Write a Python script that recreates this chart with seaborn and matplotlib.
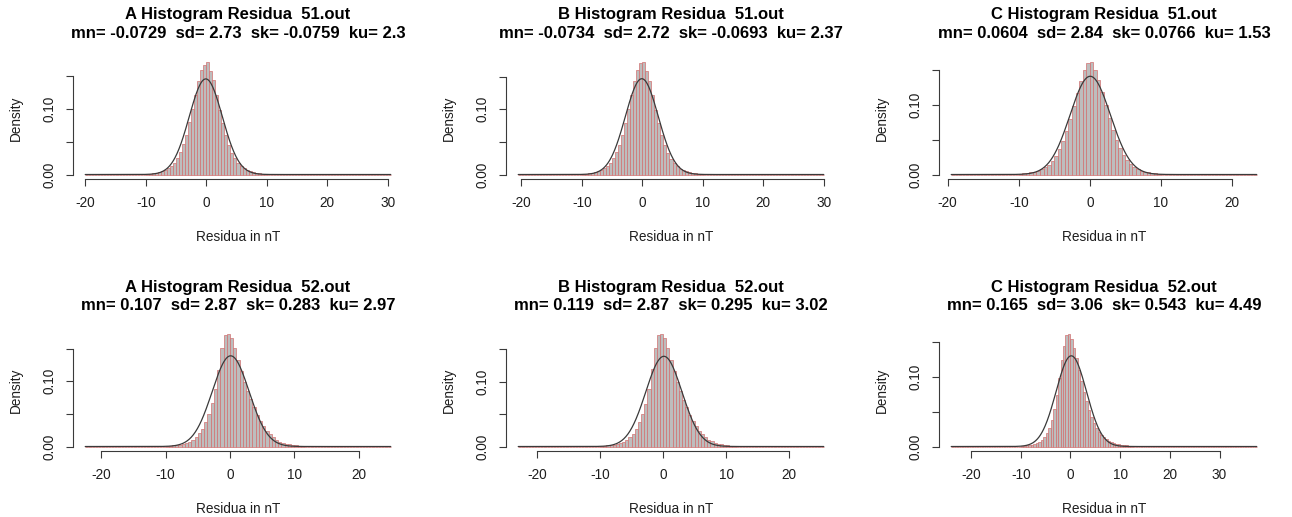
import numpy as np
import pandas as pd
import matplotlib
matplotlib.use("Agg")
import matplotlib.pyplot as plt
import seaborn as sns

# ---------------- data ----------------
methods = ["A", "B", "C"]
files = ["51.out", "52.out"]

mn = [[-0.0729, -0.0734, 0.0604], [0.107, 0.119, 0.165]]
sd = [[2.73, 2.72, 2.84], [2.87, 2.87, 3.06]]
sk = [[-0.0759, -0.0693, 0.0766], [0.283, 0.295, 0.543]]
ku = [[2.3, 2.37, 1.53], [2.97, 3.02, 4.49]]

# range covered by the histogram breaks
data_lo = [[-20.0, -20.5, -19.5], [-22.5, -23.0, -24.0]]
data_hi = [[30.5, 30.0, 23.5], [25.0, 25.5, 37.5]]

bin_width = 0.5
core_start = -10.0   # first bin with visible height; bins outside are ~0

dens_A51 = [0.0011, 0.0015, 0.0019, 0.0026, 0.0036, 0.0050, 0.0069, 0.0095, 0.0131, 0.0181,
            0.0249, 0.0340, 0.0460, 0.0611, 0.0795, 0.1003, 0.1220, 0.1425, 0.1592, 0.1668,
            0.1712, 0.1585, 0.1440, 0.1210, 0.0990, 0.0785, 0.0600, 0.0452, 0.0335, 0.0245,
            0.0177, 0.0128, 0.0093, 0.0067, 0.0048, 0.0035, 0.0026, 0.0019, 0.0014, 0.0010]
dens_B51 = [0.0010, 0.0014, 0.0019, 0.0026, 0.0036, 0.0049, 0.0068, 0.0094, 0.0130, 0.0180,
            0.0248, 0.0338, 0.0458, 0.0610, 0.0795, 0.1002, 0.1222, 0.1430, 0.1600, 0.1700,
            0.1715, 0.1590, 0.1430, 0.1215, 0.0995, 0.0788, 0.0602, 0.0452, 0.0334, 0.0243,
            0.0175, 0.0127, 0.0092, 0.0066, 0.0048, 0.0035, 0.0025, 0.0018, 0.0013, 0.0010]
dens_C51 = [0.0011, 0.0015, 0.0021, 0.0029, 0.0040, 0.0054, 0.0075, 0.0104, 0.0143, 0.0196,
            0.0267, 0.0359, 0.0476, 0.0620, 0.0789, 0.0975, 0.1166, 0.1343, 0.1490, 0.1598,
            0.1602, 0.1500, 0.1357, 0.1186, 0.0995, 0.0809, 0.0639, 0.0493, 0.0373, 0.0278,
            0.0205, 0.0149, 0.0109, 0.0078, 0.0057, 0.0042, 0.0030, 0.0022, 0.0016, 0.0012]
dens_A52 = [0.0010, 0.0013, 0.0017, 0.0022, 0.0030, 0.0040, 0.0055, 0.0075, 0.0105, 0.0145,
            0.0200, 0.0275, 0.0375, 0.0500, 0.0660, 0.0880, 0.1180, 0.1510, 0.1715,
            0.1717, 0.1660, 0.1510, 0.1330, 0.1160, 0.0990, 0.0850, 0.0725, 0.0605, 0.0490,
            0.0390, 0.0310, 0.0240, 0.0186, 0.0140, 0.0102, 0.0076, 0.0056, 0.0042, 0.0032,
            0.0024, 0.0018, 0.0014, 0.0010]
dens_B52 = [0.0009, 0.0012, 0.0016, 0.0021, 0.0029, 0.0039, 0.0054, 0.0074, 0.0103, 0.0143,
            0.0198, 0.0272, 0.0372, 0.0498, 0.0662, 0.0885, 0.1190, 0.1525, 0.1722,
            0.1726, 0.1665, 0.1515, 0.1335, 0.1160, 0.0990, 0.0848, 0.0722, 0.0602, 0.0488,
            0.0392, 0.0312, 0.0242, 0.0188, 0.0142, 0.0104, 0.0078, 0.0058, 0.0043, 0.0033,
            0.0025, 0.0019, 0.0014, 0.0010]
dens_C52 = [0.0010, 0.0013, 0.0016, 0.0020, 0.0027, 0.0036, 0.0050, 0.0068, 0.0095, 0.0135,
            0.0190, 0.0270, 0.0385, 0.0540, 0.0740, 0.0990, 0.1250, 0.1450, 0.1605,
            0.1610, 0.1545, 0.1420, 0.1265, 0.1100, 0.0935, 0.0785, 0.0650, 0.0530, 0.0428,
            0.0342, 0.0272, 0.0214, 0.0168, 0.0131, 0.0102, 0.0080, 0.0063, 0.0050, 0.0040,
            0.0032, 0.0026, 0.0021, 0.0017, 0.0014, 0.0011]

densities = [[dens_A51, dens_B51, dens_C51], [dens_A52, dens_B52, dens_C52]]

x_ticks = [[[-20, -10, 0, 10, 20, 30], [-20, -10, 0, 10, 20, 30], [-20, -10, 0, 10, 20]],
           [[-20, -10, 0, 10, 20], [-20, -10, 0, 10, 20], [-20, -10, 0, 10, 20, 30]]]
y_ticks = [0.0, 0.05, 0.10, 0.15]
y_ticklabels = ["0.00", "", "0.10", ""]

# ---------------- style ----------------
sns.set_style("white")
plt.rcParams["font.family"] = ["Liberation Sans", "DejaVu Sans"]

W, H = 1292, 517
fig = plt.figure(figsize=(W / 100, H / 100), dpi=100)

col_left = [73, 506, 939]
row_top = [58, 330]
ax_w, ax_h = 330, 121

bar_fill = "#bdbdbd"
bar_edge = "#d27070"
axis_col = "#3a3a3a"
text_col = "#1e1e1e"

for r in range(2):
    for c in range(3):
        left = col_left[c]
        top = row_top[r]
        ax = fig.add_axes([left / W, (H - top - ax_h) / H, ax_w / W, ax_h / H])
        lo, hi = data_lo[r][c], data_hi[r][c]
        n_bins = int(round((hi - lo) / bin_width))
        lefts = lo + bin_width * np.arange(n_bins)
        centers = lefts + bin_width / 2
        core = densities[r][c]
        dens = np.zeros(n_bins)
        for i, e in enumerate(lefts):
            k = int(round((e - core_start) / bin_width))
            if 0 <= k < len(core):
                dens[i] = core[k]
        df = pd.DataFrame({"center": centers, "density": dens})
        sns.histplot(data=df, x="center", weights="density", binwidth=bin_width,
                     binrange=(lo, hi), stat="count", ax=ax, color=bar_fill,
                     edgecolor=bar_edge, linewidth=0.5, alpha=1.0)

        xs = np.linspace(lo, hi, 600)
        m, s = mn[r][c], sd[r][c]
        ax.plot(xs, np.exp(-0.5 * ((xs - m) / s) ** 2) / (s * np.sqrt(2 * np.pi)),
                color="#3a3a3a", lw=0.9)

        rng = hi - lo
        ax.set_xlim(lo - 0.04 * rng, hi + 0.04 * rng)
        ymax = max(core)
        ax.set_ylim(-0.04 * ymax, 1.04 * ymax)

        for sp in ["top", "right"]:
            ax.spines[sp].set_visible(False)
        ax.spines["left"].set_bounds(y_ticks[0], y_ticks[-1])
        ax.spines["bottom"].set_bounds(x_ticks[r][c][0], x_ticks[r][c][-1])
        for sp in ["left", "bottom"]:
            ax.spines[sp].set_color(axis_col)
            ax.spines[sp].set_linewidth(0.8)

        ax.set_xticks(x_ticks[r][c])
        ax.set_xticklabels([str(t) if t >= 0 else "-" + str(-t) for t in x_ticks[r][c]])
        ax.set_yticks(y_ticks)
        ax.set_yticklabels(y_ticklabels, rotation=90, va="center")
        ax.tick_params(axis="both", bottom=True, left=True, length=5, width=0.8,
                       color=axis_col, labelsize=9.8, labelcolor=text_col, pad=7,
                       direction="out")

        ax.set_xlabel("Residua in nT", fontsize=9.8, color=text_col)
        ax.xaxis.label.set_va("center")
        ax.xaxis.set_label_coords(0.5, -58 / ax_h)
        ax.set_ylabel("Density", fontsize=9.8, color=text_col)
        ax.yaxis.label.set_va("center")
        ax.yaxis.label.set_ha("center")
        ax.yaxis.set_label_coords(-57 / ax_w, 0.5)

        line1 = f"{methods[c]} Histogram Residua  {files[r]}"
        line2 = (f"mn= {mn[r][c]:.3g}  sd= {sd[r][c]:.3g}  "
                 f"sk= {sk[r][c]:.3g}  ku= {ku[r][c]:.3g}")
        ax.text(0.5, 1 + 43 / ax_h, line1, transform=ax.transAxes, ha="center",
                va="center", fontsize=12, fontweight="bold", color="black")
        ax.text(0.5, 1 + 24 / ax_h, line2, transform=ax.transAxes, ha="center",
                va="center", fontsize=12, fontweight="bold", color="black")

fig.savefig("out.png", dpi=100, facecolor="white")
